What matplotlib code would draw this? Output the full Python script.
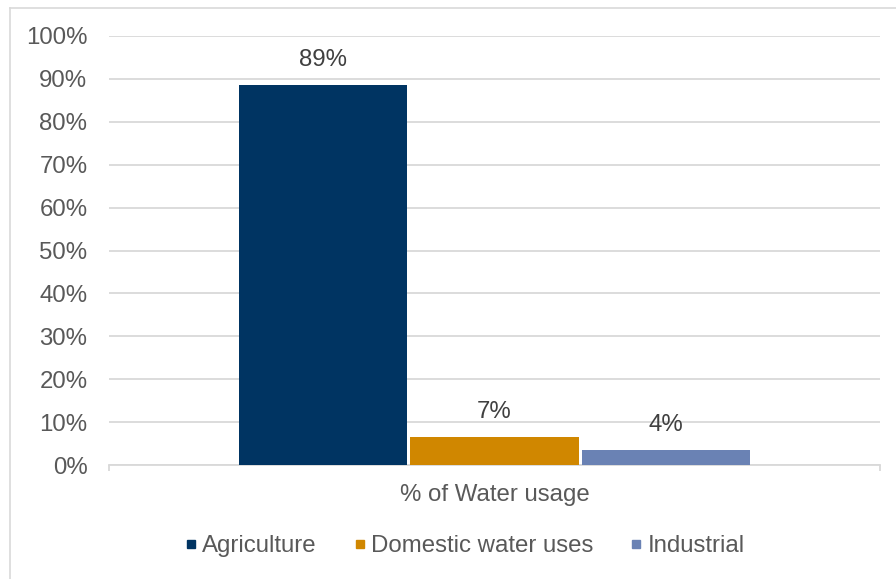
import matplotlib
matplotlib.use("Agg")
import matplotlib.pyplot as plt
from matplotlib.lines import Line2D
from matplotlib.ticker import PercentFormatter

plt.rcParams['font.family'] = ['Liberation Sans', 'DejaVu Sans']

# Share of water usage by sector
sectors = ["Agriculture", "Domestic water uses", "Industrial"]
shares = [0.8855, 0.0655, 0.0355]
category = "% of Water usage"
colors = ["#003462", "#D08700", "#6A82B4"]

W, H, DPI = 896, 579, 100
fig = plt.figure(figsize=(W / DPI, H / DPI), dpi=DPI)
fig.patch.set_facecolor("white")

# plot area in pixel terms
left, right, top, bottom = 109, 880, 36, 465
ax = fig.add_axes([left / W, 1 - bottom / H, (right - left) / W, (bottom - top) / H])

grid_c = "#d9d9d9"
text_c = "#595959"
fs = 17.3

bar_w = 0.218
step = 0.2224
offsets = [(i - 1) * step for i in range(len(sectors))]
for off, name, val, col in zip(offsets, sectors, shares, colors):
    ax.bar(off, val, width=bar_w, color=col, label=name, zorder=3)
    ax.annotate(f"{val:.0%}", (off, val), xytext=(0, 18), textcoords="offset points",
                ha="center", va="center", fontsize=fs, color="#404040")

ax.set_xlim(-0.5, 0.5)
ax.set_ylim(0, 1)
ax.set_yticks([i / 10 for i in range(11)])
ax.yaxis.set_major_formatter(PercentFormatter(1.0, decimals=0))
ax.grid(axis="y", color=grid_c, linewidth=1.3, zorder=0)
ax.set_axisbelow(True)

for s in ["top", "right", "left"]:
    ax.spines[s].set_visible(False)
ax.spines["bottom"].set_color(grid_c)
ax.spines["bottom"].set_linewidth(1.3)

ax.tick_params(axis="y", length=0, pad=15.5, labelsize=fs, labelcolor=text_c)
ax.set_xticks([0], [category])
ax.set_xticks([-0.5, 0.5], minor=True)
ax.tick_params(axis="x", which="major", length=0, pad=13.5, labelsize=fs, labelcolor=text_c)
ax.tick_params(axis="x", which="minor", length=4.5, width=1.3, color=grid_c)

# legend
handles = [Line2D([], [], marker="s", linestyle="none", markersize=5.8,
                  markerfacecolor=c, markeredgecolor=c) for c in colors]
fig.legend(handles, sectors, loc="center", bbox_to_anchor=(465.5 / W, 1 - 546 / H),
           ncol=3, frameon=False, fontsize=fs, labelcolor=text_c,
           handlelength=0.4, handletextpad=0.25, columnspacing=1.6, borderpad=0)

# chart area border (left and top edges)
fig.add_artist(Line2D([9.5 / W, 9.5 / W], [0, 1 - 7.5 / H], transform=fig.transFigure,
                      color=grid_c, linewidth=1.2))
fig.add_artist(Line2D([9.5 / W, 1], [1 - 7.5 / H, 1 - 7.5 / H], transform=fig.transFigure,
                      color=grid_c, linewidth=1.2))

fig.savefig("out.png", dpi=DPI)
